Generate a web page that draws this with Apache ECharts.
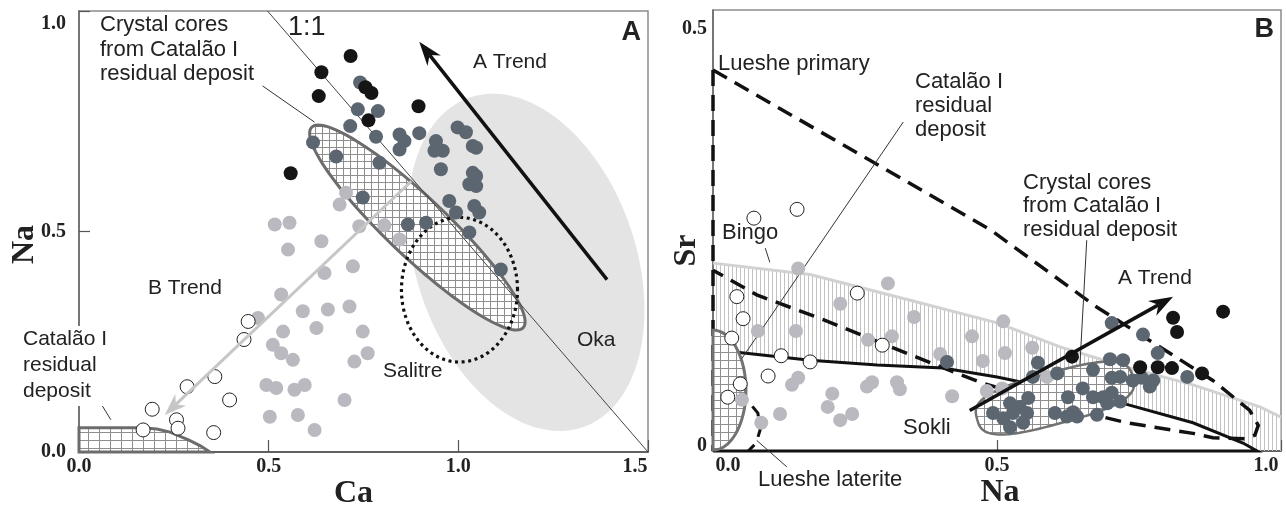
<!DOCTYPE html>
<html>
<head>
<meta charset="utf-8">
<script src="https://cdn.jsdelivr.net/npm/echarts@6/dist/echarts.min.js"></script>
<style>
  html, body { margin: 0; padding: 0; background: #fff; }
  #chart { width: 1286px; height: 507px; }
</style>
</head>
<body>
<div id="chart"></div>
<script>
// ---------- Panel A: Ca vs Na (apfu) ----------
const aXLabels = ['0.0', '0.5', '1.0', '1.5'];
const aYLabels = ['0.0', '0.5', '1.0'];

const aBlack = [[0.716,0.898],[0.639,0.861],[0.632,0.807],[0.755,0.827],[0.771,0.814],
  [0.763,0.752],[0.895,0.784],[0.558,0.632]];
const aDark = [[0.741,0.838],[0.735,0.777],[0.788,0.773],[0.715,0.739],[0.783,0.715],
  [0.845,0.720],[0.858,0.705],[0.897,0.723],[0.845,0.686],[0.941,0.705],[0.937,0.683],
  [0.959,0.683],[0.954,0.641],[0.998,0.736],[1.020,0.725],[1.038,0.694],[1.047,0.690],
  [1.038,0.633],[1.047,0.626],[1.029,0.607],[1.047,0.603],[0.617,0.702],[0.678,0.670],
  [0.792,0.656],[0.748,0.577],[0.976,0.569],[0.994,0.543],[1.042,0.558],[1.055,0.543],
  [0.867,0.516],[0.915,0.520],[1.029,0.498],[1.112,0.414]];
const aLight = [[0.704,0.588],[0.687,0.561],[0.805,0.514],[0.516,0.516],[0.555,0.520],
  [0.639,0.478],[0.739,0.512],[0.845,0.482],[0.551,0.459],[0.647,0.406],[0.722,0.421],
  [0.533,0.357],[0.472,0.304],[0.590,0.319],[0.656,0.323],[0.713,0.330],[0.538,0.273],
  [0.626,0.281],[0.748,0.273],[0.511,0.243],[0.533,0.224],[0.564,0.209],[0.761,0.224],
  [0.726,0.205],[0.494,0.152],[0.520,0.145],[0.568,0.141],[0.595,0.152],[0.700,0.118],
  [0.503,0.080],[0.577,0.084],[0.621,0.050]];
const aOpen = [[0.446,0.296],[0.435,0.255],[0.358,0.171],[0.285,0.148],[0.397,0.118],
  [0.193,0.097],[0.257,0.073],[0.261,0.054],[0.355,0.044],[0.169,0.050]];

// Fields and trends in panel A (data units; ellipses as centre + two half-axis vectors)
const okaField = { c: [1.179, 0.430], u: [0.145, -0.375], v: [0.276, 0.075] };
const coresFieldA = { c: [0.892, 0.509], u: [0.279, -0.227], v: [0.053, 0.050] };
const salitreField = { c: [1.003, 0.368], u: [0.153, 0], v: [0, 0.164] };
const catalaoFieldA = [[0,0.055],[0.168,0.055],[0.205,0.052],[0.24,0.045],[0.29,0.027],
  [0.32,0.014],[0.345,0],[0,0]];
const oneToOne = [[0.497, 1.0], [1.5, 0]];
const aTrendA = [[1.392, 0.391], [0.897, 0.930]];
const bTrendA = [[0.876, 0.614], [0.226, 0.084]];
const leadCoresA = [[0.484, 0.830], [0.621, 0.748]];
const leadCatalaoA = [[0.047, 0.125], [0.084, 0.073]];

// ---------- Panel B: Na vs Sr (apfu) ----------
const bXLabels = ['0.0', '0.5', '1.0'];
const bYLabels = ['0', '0.5'];

const bOpen = [[0.148,0.274],[0.072,0.264],[0.254,0.179],[0.042,0.175],[0.053,0.150],
  [0.033,0.128],[0.298,0.120],[0.120,0.108],[0.171,0.101],[0.097,0.085],[0.048,0.076],
  [0.026,0.061]];
const bLight = [[0.150,0.207],[0.308,0.190],[0.224,0.167],[0.354,0.152],[0.079,0.136],
  [0.146,0.136],[0.273,0.126],[0.315,0.130],[0.456,0.130],[0.400,0.110],[0.475,0.102],
  [0.150,0.083],[0.139,0.075],[0.280,0.078],[0.271,0.073],[0.324,0.078],[0.329,0.070],
  [0.421,0.062],[0.482,0.068],[0.051,0.058],[0.210,0.065],[0.202,0.050],[0.245,0.042],
  [0.224,0.035],[0.118,0.042],[0.085,0.032],[0.511,0.147],[0.562,0.117],[0.514,0.111],
  [0.509,0.071],[0.588,0.084]];
const bDark = [[0.702,0.145],[0.757,0.132],[0.783,0.111],[0.722,0.103],[0.699,0.104],
  [0.572,0.100],[0.606,0.088],[0.563,0.084],[0.669,0.092],[0.702,0.083],[0.717,0.084],
  [0.739,0.080],[0.755,0.083],[0.775,0.080],[0.769,0.073],[0.835,0.084],[0.651,0.071],
  [0.625,0.061],[0.669,0.061],[0.687,0.061],[0.702,0.066],[0.694,0.054],[0.717,0.056],
  [0.523,0.054],[0.555,0.060],[0.540,0.050],[0.493,0.043],[0.528,0.043],[0.553,0.043],
  [0.602,0.043],[0.634,0.044],[0.641,0.039],[0.676,0.041],[0.511,0.037],[0.523,0.027],
  [0.546,0.032],[0.623,0.039],[0.412,0.101]];
const bBlack = [[0.810,0.151],[0.817,0.135],[0.898,0.158],[0.752,0.095],[0.783,0.095],
  [0.808,0.094],[0.861,0.088],[0.632,0.107]];

// Fields and trends in panel B
const luesheUpper = [[0,0.432],[0.488,0.251],[0.676,0.163],[0.880,0.080],[0.945,0.046],
  [0.960,0.029],[0.954,0.018],[0.937,0.014],[0.880,0.015],[0.845,0.020],[0.729,0.032],
  [0.611,0.050],[0.475,0.077],[0.430,0.088],[0.282,0.126],[0.194,0.149],[0.077,0.177],
  [0,0.205]];
const luesheAxis = [[0,0.432],[0,0]];
const luesheLaterite = [[0,0.0635],[0.035,0.061],[0.065,0.054],[0.079,0.043],[0.083,0.024],
  [0.076,0.009],[0.062,0]];
const bingoTop = [[0,0.213],[0.171,0.200],[0.347,0.171],[0.502,0.145],[0.611,0.118],
  [0.729,0.095],[0.845,0.075],[0.963,0.050],[1.0,0.0385]];
const sokliTop = [[0,0.1145],[0.042,0.112],[0.171,0.103],[0.289,0.0975],[0.405,0.094],
  [0.5,0.084],[0.722,0.054],[0.845,0.032],[0.933,0.009],[0.958,0]];
const catalaoFieldB = { c: [0, 0.069], u: [0.058, 0], v: [0, 0.068] };
const coresFieldB = { c: [0.602, 0.060], u: [0.137, 0.024], v: [0.012, -0.028] };
const aTrendB = [[0.452, 0.046], [0.810, 0.175]];
const leadCatalaoB = [[0.335, 0.373], [0.051, 0.105]];
const leadCoresB = [[0.658, 0.239], [0.646, 0.098]];
const leadBingo = [[0.092, 0.230], [0.100, 0.214]];
const leadLaterite = [[0.077, 0.012], [0.130, -0.018]];

// ---------- drawing helpers ----------
function makeGrid(w, h, color) {
  const c = document.createElement('canvas');
  c.width = w; c.height = h;
  const g = c.getContext('2d');
  g.fillStyle = '#ffffff'; g.fillRect(0, 0, w, h);
  g.strokeStyle = color; g.lineWidth = 1;
  g.beginPath();
  g.moveTo(0.5, 0); g.lineTo(0.5, h);
  g.moveTo(0, 0.5); g.lineTo(w, 0.5);
  g.stroke();
  return { image: c, repeat: 'repeat' };
}
function makeStripes(w, h, color) {
  const c = document.createElement('canvas');
  c.width = w; c.height = h;
  const g = c.getContext('2d');
  g.strokeStyle = color; g.lineWidth = 1;
  g.beginPath(); g.moveTo(0.5, 0); g.lineTo(0.5, h); g.stroke();
  return { image: c, repeat: 'repeat' };
}
const gridFine = makeGrid(7, 7, '#8e8e8e');
const gridWide = makeGrid(11, 8, '#8e8e8e');
const gridB = makeGrid(8, 8, '#8e8e8e');
const stripes = makeStripes(4, 4, '#c2c2c2');

function ellipsePts(api, e, t0, t1, n) {
  const pts = [];
  const steps = 120;
  const p = n || 2;
  for (let i = 0; i <= steps; i++) {
    const t = t0 + (t1 - t0) * i / steps;
    const c = Math.cos(t), s = Math.sin(t);
    const cc = Math.sign(c) * Math.pow(Math.abs(c), 2 / p);
    const ss = Math.sign(s) * Math.pow(Math.abs(s), 2 / p);
    pts.push(api.coord([e.c[0] + cc * e.u[0] + ss * e.v[0], e.c[1] + cc * e.u[1] + ss * e.v[1]]));
  }
  return pts;
}
const toPx = (api, arr) => arr.map(p => api.coord(p));
function poly(api, arr, style) {
  return { type: 'polyline', shape: { points: toPx(api, arr) }, style: Object.assign({ fill: 'none' }, style) };
}
function arrow(api, seg, color, width, headLen, headWid) {
  const a = api.coord(seg[0]), b = api.coord(seg[1]);
  const dx = b[0] - a[0], dy = b[1] - a[1], L = Math.hypot(dx, dy);
  const ux = dx / L, uy = dy / L;
  const base = [b[0] - ux * headLen, b[1] - uy * headLen];
  const notch = [b[0] - ux * headLen * 0.7, b[1] - uy * headLen * 0.7];
  const px = -uy * headWid / 2, py = ux * headWid / 2;
  return [
    { type: 'line', shape: { x1: a[0], y1: a[1], x2: notch[0], y2: notch[1] },
      style: { stroke: color, lineWidth: width } },
    { type: 'polygon', shape: { points: [b, [base[0] + px, base[1] + py], notch, [base[0] - px, base[1] - py]] },
      style: { fill: color } }
  ];
}

function backA(params, api) {
  const kids = [];
  kids.push({ type: 'polygon', shape: { points: ellipsePts(api, okaField, 0, 2 * Math.PI) },
    style: { fill: '#e4e4e4' } });
  kids.push({ type: 'polygon', shape: { points: ellipsePts(api, coresFieldA, 0, 2 * Math.PI) },
    style: { fill: gridFine, stroke: '#6c6c6c', lineWidth: 3 } });
  kids.push({ type: 'polygon', shape: { points: toPx(api, catalaoFieldA) },
    style: { fill: gridWide, stroke: '#6c6c6c', lineWidth: 3 } });
  kids.push({ type: 'polygon', shape: { points: ellipsePts(api, salitreField, 0, 2 * Math.PI) },
    style: { fill: 'none', stroke: '#111', lineWidth: 3.2, lineDash: [3, 3.6] } });
  kids.push(poly(api, oneToOne, { stroke: '#444', lineWidth: 1 }));
  kids.push(poly(api, leadCoresA, { stroke: '#333', lineWidth: 1 }));
  kids.push(poly(api, leadCatalaoA, { stroke: '#333', lineWidth: 1 }));
  return { type: 'group', children: kids };
}
function frontA(params, api) {
  return { type: 'group', children: [
    ...arrow(api, aTrendA, '#111', 3.5, 24, 17),
    ...arrow(api, bTrendA, '#c6c6c6', 3, 22, 16)
  ] };
}
function backB(params, api) {
  const kids = [];
  const bingoPoly = bingoTop.concat([[1.0, 0]], sokliTop.slice().reverse());
  kids.push({ type: 'polygon', shape: { points: toPx(api, bingoPoly) }, style: { fill: stripes } });
  kids.push(poly(api, bingoTop, { stroke: '#d2d2d2', lineWidth: 3 }));
  kids.push(poly(api, sokliTop.concat([[0, 0]]), { stroke: '#111', lineWidth: 3 }));
  kids.push(poly(api, luesheUpper, { stroke: '#111', lineWidth: 3.5, lineDash: [16, 9] }));
  kids.push(poly(api, luesheAxis, { stroke: '#111', lineWidth: 3.5, lineDash: [16, 9] }));
  kids.push(poly(api, luesheLaterite, { stroke: '#111', lineWidth: 3, lineDash: [12, 9] }));
  kids.push({ type: 'polygon',
    shape: { points: ellipsePts(api, catalaoFieldB, -Math.PI / 2, Math.PI / 2) },
    style: { fill: gridB, stroke: '#727272', lineWidth: 3 } });
  kids.push({ type: 'polygon', shape: { points: ellipsePts(api, coresFieldB, 0, 2 * Math.PI, 3) },
    style: { fill: gridB, stroke: '#727272', lineWidth: 2.5 } });
  kids.push(poly(api, leadCatalaoB, { stroke: '#333', lineWidth: 1 }));
  kids.push(poly(api, leadCoresB, { stroke: '#333', lineWidth: 1 }));
  kids.push(poly(api, leadBingo, { stroke: '#333', lineWidth: 1 }));
  kids.push(poly(api, leadLaterite, { stroke: '#333', lineWidth: 1 }));
  return { type: 'group', children: kids };
}
function frontB(params, api) {
  return { type: 'group', children: arrow(api, aTrendB, '#111', 3.5, 24, 17) };
}

// ---------- chart ----------
const serif = '"Liberation Serif", "Times New Roman", serif';
const sans = '"Liberation Sans", Arial, sans-serif';
const tickFont = { fontFamily: serif, fontWeight: 'bold', fontSize: 20, color: '#222' };
const nameFont = { fontFamily: serif, fontWeight: 'bold', fontSize: 32, color: '#222' };

function dots(name, data, xi, color, border) {
  return {
    name, type: 'scatter', xAxisIndex: xi, yAxisIndex: xi, data, z: 3,
    symbolSize: 14,
    itemStyle: border ? { color: '#fff', borderColor: '#222', borderWidth: 1, opacity: 1 }
                      : { color, opacity: 1 },
    emphasis: { disabled: true }, silent: true
  };
}
function label(text, x, y, size, extra) {
  return {
    type: 'text', x, y, z: 100,
    style: Object.assign({ text, font: size + 'px ' + sans, fill: '#222',
      align: 'left', verticalAlign: 'middle' }, extra || {})
  };
}

const chart = echarts.init(document.getElementById('chart'), null, { renderer: 'canvas' });
chart.setOption({
  animation: false,
  backgroundColor: '#fff',
  grid: [
    { left: 79, top: 11, width: 569, height: 441, show: true, borderColor: '#8c8c8c', borderWidth: 1.5,
      outerBoundsMode: 'none', containLabel: false },
    { left: 713, top: 10, width: 568, height: 441, show: true, borderColor: '#8c8c8c', borderWidth: 1.5,
      outerBoundsMode: 'none', containLabel: false }
  ],
  xAxis: [
    { gridIndex: 0, type: 'value', min: 0, max: 1.5, interval: 0.5,
      name: 'Ca', nameLocation: 'middle', nameGap: 26, nameMoveOverlap: false,
      nameTextStyle: Object.assign({ padding: [0, 20, 0, 0] }, nameFont),
      axisLine: { lineStyle: { color: '#4a4a4a', width: 1.5 } },
      axisTick: { inside: true, length: 12, lineStyle: { color: '#555', width: 1.2 } },
      splitLine: { show: false },
      axisLabel: Object.assign({ margin: 5,
        formatter: v => { const s = aXLabels[Math.round(v / 0.5)]; return v === 1.5 ? '{r|' + s + '}' : s; },
        rich: { r: Object.assign({ padding: [0, 26, 0, 0] }, tickFont) } }, tickFont) },
    { gridIndex: 1, type: 'value', min: 0, max: 1, interval: 0.5,
      name: 'Na', nameLocation: 'middle', nameGap: 26, nameMoveOverlap: false,
      nameTextStyle: Object.assign({ padding: [0, 0, 0, 6] }, nameFont),
      axisLine: { lineStyle: { color: '#4a4a4a', width: 1.5 } },
      axisTick: { inside: true, length: 11, lineStyle: { color: '#555', width: 1.2 } },
      splitLine: { show: false },
      axisLabel: Object.assign({ margin: 5,
        formatter: v => { const i = Math.round(v / 0.5); const s = bXLabels[i];
          return i === 0 ? '{l|' + s + '}' : (i === 2 ? '{r|' + s + '}' : s); },
        rich: { l: Object.assign({ padding: [0, 0, 0, 30] }, tickFont),
                r: Object.assign({ padding: [0, 30, 0, 0] }, tickFont) } }, tickFont) }
  ],
  yAxis: [
    { gridIndex: 0, type: 'value', min: 0, max: 1, interval: 0.5,
      name: 'Na', nameLocation: 'middle', nameGap: 38, nameRotate: 90, nameMoveOverlap: false,
      nameTextStyle: Object.assign({ padding: [0, 26, 0, 0] }, nameFont),
      axisLine: { lineStyle: { color: '#666', width: 1.5 } },
      axisTick: { inside: true, length: 11, lineStyle: { color: '#555', width: 1.2 } },
      splitLine: { show: false },
      axisLabel: Object.assign({ margin: 13,
        formatter: v => { const i = Math.round(v / 0.5); const s = aYLabels[i];
          return i === 2 ? '{d|' + s + '}' : s; },
        rich: { d: Object.assign({ padding: [26, 0, 0, 0] }, tickFont) } }, tickFont) },
    { gridIndex: 1, type: 'value', min: 0, max: 0.5, interval: 0.5,
      name: 'Sr', nameLocation: 'middle', nameGap: 10, nameRotate: 90, nameMoveOverlap: false,
      nameTextStyle: Object.assign({ padding: [0, 40, 0, 0] }, nameFont),
      axisLine: { lineStyle: { color: '#666', width: 1.5 } },
      axisTick: { show: false },
      splitLine: { show: false },
      axisLabel: Object.assign({ margin: 6,
        formatter: v => { const i = Math.round(v / 0.5); const s = bYLabels[i];
          return i === 1 ? '{d|' + s + '}' : '{u|' + s + '}'; },
        rich: { d: Object.assign({ padding: [38, 0, 0, 0] }, tickFont),
                u: Object.assign({ padding: [0, 0, 11, 0] }, tickFont) } }, tickFont) }
  ],
  series: [
    { type: 'custom', xAxisIndex: 0, yAxisIndex: 0, data: [[0, 0]], renderItem: backA, z: 1, silent: true },
    dots('A light', aLight, 0, '#b9b9bf'),
    dots('A open', aOpen, 0, null, true),
    dots('A dark', aDark, 0, '#5c6670'),
    dots('A black', aBlack, 0, '#151515'),
    { type: 'custom', xAxisIndex: 0, yAxisIndex: 0, data: [[0, 0]], renderItem: frontA, z: 4, silent: true },

    { type: 'custom', xAxisIndex: 1, yAxisIndex: 1, data: [[0, 0]], renderItem: backB, z: 1, silent: true },
    dots('B light', bLight, 1, '#b9b9bf'),
    dots('B open', bOpen, 1, null, true),
    dots('B dark', bDark, 1, '#5c6670'),
    dots('B black', bBlack, 1, '#151515'),
    { type: 'custom', xAxisIndex: 1, yAxisIndex: 1, data: [[0, 0]], renderItem: frontB, z: 4, silent: true }
  ],
  graphic: [
    // panel A annotations
    label('Crystal cores\nfrom Catalão I\nresidual deposit', 100, 13, 22, { verticalAlign: 'top', lineHeight: 24.5 }),
    label('1:1', 288, 28, 27),
    label('A Trend', 473, 62, 21),
    label('A', 641, 33, 27, { align: 'right', font: 'bold 27px ' + sans }),
    label('B Trend', 148, 288, 21),
    label('Salitre', 383, 371, 21),
    label('Oka', 577, 340, 21),
    label('Catalão I\nresidual\ndeposit', 21, 326, 21,
      { verticalAlign: 'top', lineHeight: 26, backgroundColor: '#fff', padding: [0, 2, 2, 2] }),
    // panel B annotations
    label('Lueshe primary', 718, 64, 22),
    label('Catalão I\nresidual\ndeposit', 915, 70, 22, { verticalAlign: 'top', lineHeight: 24 }),
    label('Crystal cores\nfrom Catalão I\nresidual deposit', 1023, 171, 22, { verticalAlign: 'top', lineHeight: 23.5 }),
    label('Bingo', 722, 233, 22),
    label('A Trend', 1118, 278, 21),
    label('Sokli', 903, 428, 22),
    label('Lueshe laterite', 758, 480, 22),
    label('B', 1274, 30, 27, { align: 'right', font: 'bold 27px ' + sans })
  ]
});
</script>
</body>
</html>
